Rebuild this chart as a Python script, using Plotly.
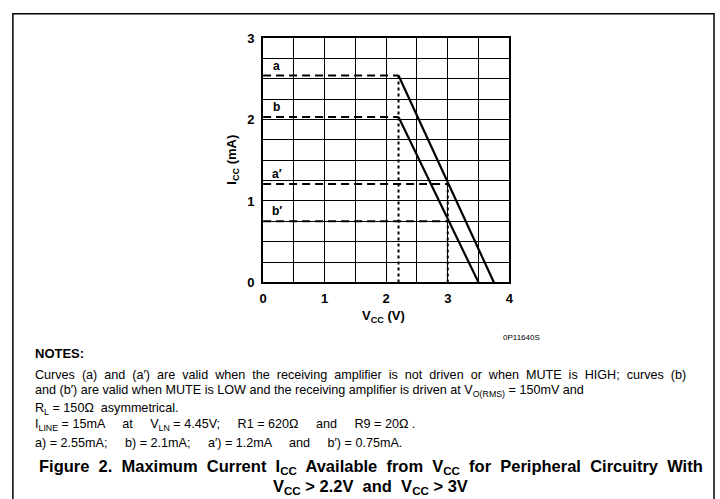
import plotly.graph_objects as go

# ---- data ----
level_labels = ["a", "b", "a′", "b′"]
level_values = [2.54, 2.03, 1.21, 0.75]     # mA
level_end_x = [2.2, 2.2, 3.0, 3.0]          # V
curve_a_x = [2.2, 3.75]
curve_a_y = [2.54, 0.0]
curve_b_x = [2.2, 3.5]
curve_b_y = [2.03, 0.0]
dotted_x = [2.2, 3.0]
dotted_top = [2.54, 1.21]
x_ticks = [0, 1, 2, 3, 4]
y_ticks = [0, 1, 2, 3]

W, H = 720, 499
FONT = "Liberation Sans, Arial, Helvetica, sans-serif"

def px(x):
    return x / W

def py(y):
    return 1 - y / H

fig = go.Figure()

# dashed horizontal levels
for lab, val, xe in zip(level_labels, level_values, level_end_x):
    fig.add_trace(go.Scatter(x=[0, xe], y=[val, val], mode="lines",
                             line=dict(color="black", width=2, dash="8px,5px"),
                             hoverinfo="skip", showlegend=False))
    fig.add_annotation(x=0.22, y=val, text="<b>%s</b>" % lab, showarrow=False,
                       xanchor="center", yanchor="bottom", yshift=1,
                       font=dict(family=FONT, size=12, color="black"))

# dotted verticals
for xv, top in zip(dotted_x, dotted_top):
    fig.add_trace(go.Scatter(x=[xv, xv], y=[0, top], mode="lines",
                             line=dict(color="black", width=2, dash="dot"),
                             hoverinfo="skip", showlegend=False))

# solid curves
for cx, cy in [(curve_a_x, curve_a_y), (curve_b_x, curve_b_y)]:
    fig.add_trace(go.Scatter(x=cx, y=cy, mode="lines",
                             line=dict(color="black", width=2.2),
                             hoverinfo="skip", showlegend=False))

x0, x1 = 262, 511
y0, y1 = 32, 284

fig.update_xaxes(range=[0, 4], domain=[px(x0), px(x1)], tickmode="array", tickvals=x_ticks,
                 ticktext=["<b>%d</b>" % v for v in x_ticks],
                 showgrid=True, gridcolor="black", gridwidth=1,
                 showline=True, linecolor="black", linewidth=2, mirror=True,
                 zeroline=False, ticks="", ticklen=0, ticklabelstandoff=3,
                 tickfont=dict(family=FONT, size=13, color="black"),
                 minor=dict(dtick=0.5, tick0=0, showgrid=True, gridcolor="black", gridwidth=1))
fig.update_yaxes(range=[0, 3], domain=[py(y1), py(y0)], tickmode="array", tickvals=y_ticks,
                 ticktext=["<b>%d</b>" % v for v in y_ticks],
                 showgrid=True, gridcolor="black", gridwidth=1,
                 showline=True, linecolor="black", linewidth=2, mirror=True,
                 zeroline=False, ticks="", ticklen=0, ticklabelstandoff=4,
                 tickfont=dict(family=FONT, size=13, color="black"),
                 minor=dict(dtick=0.25, tick0=0, showgrid=True, gridcolor="black", gridwidth=1))

# axis titles
fig.add_annotation(xref="paper", yref="paper", x=px(231), y=py(157),
                   xanchor="center", yanchor="middle",
                   text="<b>I<sub>CC</sub> (mA)</b>", textangle=-90, showarrow=False,
                   font=dict(family=FONT, size=13, color="black"))
fig.add_annotation(xref="paper", yref="paper", x=px(384), y=py(319),
                   xanchor="center", yanchor="middle",
                   text="<b>V<sub>CC</sub> (V)</b>", showarrow=False,
                   font=dict(family=FONT, size=13, color="black"))
fig.add_annotation(xref="paper", yref="paper", x=px(523), y=py(341),
                   xanchor="center", yanchor="middle",
                   text="0P11640S", showarrow=False,
                   font=dict(family=FONT, size=8, color="black"))

# notes
notes = [
    ("<b>NOTES:</b>", 357, 13),
    ("Curves  (a)  and  (a′)  are  valid  when  the  receiving  amplifier  is  not  driven  or  when  MUTE  is  HIGH;  curves  (b)", 379, 12.6),
    ("and (b′) are valid when MUTE is LOW and the receiving amplifier is driven at V<sub>O(RMS)</sub> = 150mV and", 396, 12.6),
    ("R<sub>L</sub> = 150Ω  asymmetrical.", 414, 12.6),
    ("I<sub>LINE</sub> = 15mA     at     V<sub>LN</sub> = 4.45V;     R1 = 620Ω     and     R9 = 20Ω .", 431, 12.6),
    ("a) = 2.55mA;     b) = 2.1mA;     a′) = 1.2mA     and     b′) = 0.75mA.", 449, 12.6),
]
for txt, yy, fs in notes:
    fig.add_annotation(xref="paper", yref="paper", x=px(29), y=py(yy),
                       xanchor="left", yanchor="middle", text=txt, showarrow=False,
                       font=dict(family=FONT, size=fs, color="black"))

captions = [
    ("<b>Figure  2.  Maximum  Current  I<sub>CC</sub>  Available  from  V<sub>CC</sub>  for  Peripheral  Circuitry  With</b>", 474),
    ("<b>V<sub>CC</sub> > 2.2V  and  V<sub>CC</sub> > 3V</b>", 495),
]
for txt, yy in captions:
    fig.add_annotation(xref="paper", yref="paper", x=px(371), y=py(yy),
                       xanchor="center", yanchor="middle", text=txt, showarrow=False,
                       font=dict(family=FONT, size=16.5, color="black"))

# outer frame
fig.add_shape(type="rect", xref="paper", yref="paper",
              x0=px(9), x1=px(718), y0=py(510), y1=py(7),
              line=dict(color="black", width=1.5), fillcolor="rgba(0,0,0,0)")

fig.update_layout(width=W, height=H, margin=dict(l=0, r=0, t=0, b=0),
                  paper_bgcolor="white", plot_bgcolor="white", showlegend=False)

fig.write_html("out.html", config={"displayModeBar": False},
               post_script="document.body.style.margin='0';document.body.style.overflow='hidden';")
